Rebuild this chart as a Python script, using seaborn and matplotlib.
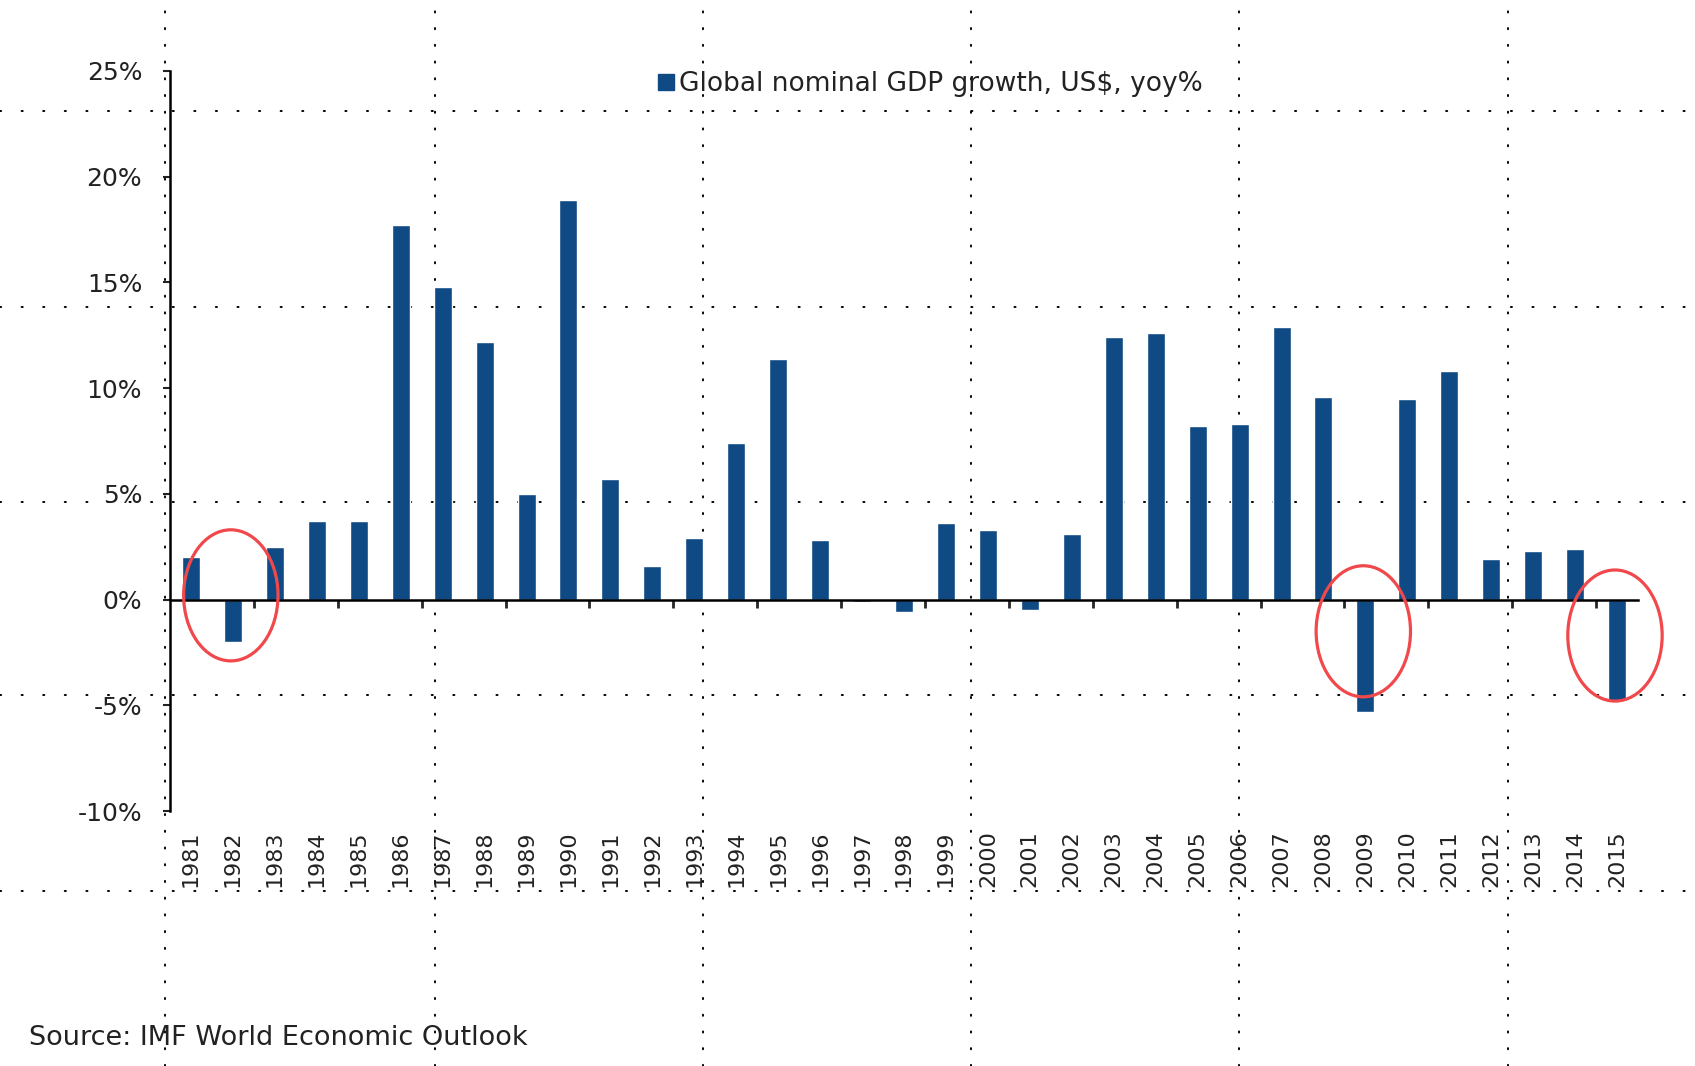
import matplotlib
matplotlib.use("Agg")
import matplotlib.pyplot as plt
from matplotlib.lines import Line2D
from matplotlib.patches import Ellipse, Patch
import seaborn as sns

years = [str(y) for y in range(1981, 2016)]
growth = [2.0, -2.0, 2.5, 3.7, 3.7, 17.7, 14.8, 12.2, 5.0, 18.9,
          5.7, 1.6, 2.9, 7.4, 11.4, 2.8, -0.1, -0.6, 3.6, 3.3,
          -0.5, 3.1, 12.4, 12.6, 8.2, 8.3, 12.9, 9.6, -5.3, 9.5,
          10.8, 1.9, 2.3, 2.4, -4.8]
y_ticks = [-10, -5, 0, 5, 10, 15, 20, 25]
y_labels = ["-10%", "-5%", "0%", "5%", "10%", "15%", "20%", "25%"]

# circled years: (year, centre of ellipse in %)
circled = [("1982", 0.2), ("2009", -1.5), ("2015", -1.7)]

series_name = "Global nominal GDP growth, US$, yoy%"
source = "Source: IMF World Economic Outlook"
bar_color = "#0f4a85"
txt_color = "#222222"

sns.set_style("white")
plt.rcParams["font.family"] = ["DejaVu Sans"]

fig = plt.figure(figsize=(16.95, 10.66), dpi=100)
ax = fig.add_axes([0.1003, 0.2392, 0.8661, 0.6942])
ax.patch.set_visible(False)

# page layout dotted grid behind the chart
for yy in [0.8959, 0.712, 0.529, 0.348, 0.164]:
    fig.add_artist(Line2D([0, 1], [yy, yy], transform=fig.transFigure, color="black",
                          lw=1.4, ls=(0, (0.6, 10.5)), dash_capstyle="round", zorder=-5))
for xx in [0.0973, 0.2566, 0.4147, 0.5729, 0.731, 0.8897]:
    fig.add_artist(Line2D([xx, xx], [0, 1], transform=fig.transFigure, color="black",
                          lw=1.4, ls=(0, (0.6, 8)), dash_capstyle="round", zorder=-5))

sns.barplot(x=years, y=growth, color=bar_color, saturation=1, width=0.43, ax=ax, zorder=3)

ax.set_xlim(-0.5, len(years) - 0.5)
ax.set_ylim(-10, 25)
ax.set_yticks(y_ticks, labels=y_labels)
ax.tick_params(axis="y", length=5, width=1.5, pad=15, labelsize=18, colors=txt_color, left=True)
ax.set_xlabel("")
ax.set_ylabel("")

for s in ["top", "right"]:
    ax.spines[s].set_visible(False)
ax.spines["left"].set_linewidth(1.8)
ax.spines["left"].set_color("black")
ax.spines["bottom"].set_position(("data", 0))
ax.spines["bottom"].set_linewidth(1.8)
ax.spines["bottom"].set_color("black")
ax.spines["bottom"].set_zorder(4)

# ticks every two categories on the zero line
ax.set_xticks([i + 1.5 for i in range(0, len(years) - 1, 2)], labels=[])
ax.tick_params(axis="x", length=6, width=2, direction="out", bottom=True)

# category labels at the bottom of the plot
sec = ax.secondary_xaxis(0)
sec.set_xticks(range(len(years)), labels=years)
sec.tick_params(length=0, pad=14, labelsize=16, labelrotation=90, colors=txt_color)
sec.spines["bottom"].set_visible(False)

for yr, yc in circled:
    i = years.index(yr)
    ax.add_patch(Ellipse((i - 0.05, yc), 2.25, 6.2, fill=False, ec="#f0484b", lw=2.3,
                         zorder=5, clip_on=False))

handle = Patch(color=bar_color)
fig.legend([handle], [series_name], loc="center", bbox_to_anchor=(0.549, 0.921),
           frameon=False, fontsize=19, handlelength=0.6, handleheight=0.6,
           handletextpad=0.2, labelcolor=txt_color)

fig.text(0.017, 0.026, source, fontsize=19.5, color=txt_color, ha="left", va="center")

fig.savefig("out.png", dpi=100)
